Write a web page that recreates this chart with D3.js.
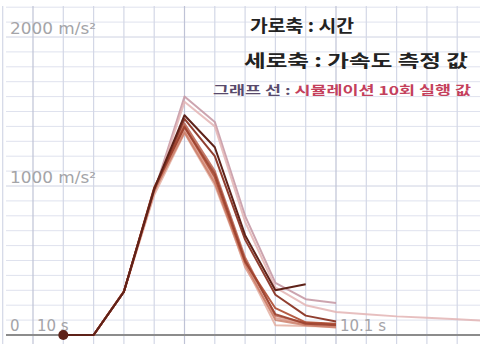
<!DOCTYPE html>
<html>
<head>
<meta charset="utf-8">
<script src="https://cdn.jsdelivr.net/npm/d3@7/dist/d3.min.js"></script>
<style>
  html, body { margin: 0; padding: 0; background: #fff; }
  svg { display: block; }
</style>
</head>
<body>
<svg id="chart" width="480" height="344"></svg>
<script>
// Sample times (s) of the acceleration readings
const times = [10.01, 10.02, 10.03, 10.04, 10.05, 10.06, 10.07, 10.08, 10.09, 10.10,
               10.11, 10.12, 10.13, 10.14, 10.15];

// Ten simulation runs, acceleration in m/s² at each sample time
const run1  = [0, 0, 290, 960, 1600, 1430, 800, 350, 240, 215];
const run2  = [0, 0, 290, 950, 1565, 1400, 760, 320, 200, 155, 140, 125, 115, 105, 95];
const run3  = [0, 0, 290, 975, 1380, 1040, 455, 115, 70, 60];
const run4  = [0, 0, 290, 940, 1355, 1005, 470, 65, 60, 55];
const run5  = [0, 0, 295, 970, 1420, 1100, 520, 130, 80, 70];
const run6  = [0, 0, 290, 965, 1360, 1020, 480, 100, 65, 50];
const run7  = [0, 0, 290, 990, 1400, 1060, 490, 180, 85, 75];
const run8  = [0, 0, 290, 985, 1395, 1080, 500, 140, 75, 65];
const run9  = [0, 0, 290, 975, 1450, 1200, 640, 270, 130, 90];
const run10 = [0, 0, 290, 980, 1475, 1260, 670, 300, 340];

const runs = [run1, run2, run3, run4, run5, run6, run7, run8, run9, run10];
const runColors = ["#c79aa6", "#e3b4b4", "#d99080", "#e0a494", "#b8604c",
                   "#c97862", "#ad4a30", "#9c4230", "#8a3424", "#5e2219"];
const runOpacity = [0.9, 0.85, 0.8, 0.75, 0.85, 0.8, 0.9, 0.9, 0.95, 1];

// Axis labels
const yTickValues = [2000, 1000];
const yTickLabels = ["2000 m/s²", "1000 m/s²"];
const xTickValues = [10.0, 10.1];
const xTickLabels = ["10 s", "10.1 s"];

// Caption lines
const captionAxisX = "가로축 : 시간";
const captionAxisY = "세로축 : 가속도 측정 값";
const captionLineKey = "그래프 선 : ";
const captionLineVal = "시뮬레이션 10회 실행 값";

const W = 480, H = 344;
const svg = d3.select("#chart");

const x = d3.scaleLinear().domain([10.0, 10.1]).range([33, 336]);
const y = d3.scaleLinear().domain([0, 2000]).range([335, 37]);

// Graph-paper grid
const grid = svg.append("g");
const hVals = d3.range(-200, 2300, 100);
grid.selectAll("line.h").data(hVals).join("line")
  .attr("x1", 6).attr("x2", W)
  .attr("y1", d => y(d)).attr("y2", d => y(d))
  .attr("stroke", d => d % 1000 === 0 ? "#ced2e2" : "#dfe2ee")
  .attr("stroke-width", 1);
const vVals = d3.range(-1, 16).map(i => 10.0 + i * 0.01);
grid.selectAll("line.v").data(vVals).join("line")
  .attr("x1", d => x(d)).attr("x2", d => x(d))
  .attr("y1", 6).attr("y2", H)
  .attr("stroke", (d, i) => (i - 1) % 5 === 0 ? "#bfc3d6" : "#d3d7e6")
  .attr("stroke-width", 1.2);

// Zero line
svg.append("line")
  .attr("x1", 6).attr("x2", W)
  .attr("y1", y(0)).attr("y2", y(0))
  .attr("stroke", "#8c8c8c").attr("stroke-width", 2);

// Axis labels
const labelFont = "'DejaVu Sans', sans-serif";
svg.selectAll("text.ylab").data(yTickValues).join("text")
  .attr("x", 10).attr("y", d => y(d) - 3)
  .attr("font-family", labelFont).attr("font-size", 15)
  .attr("fill", "#a4a4a8")
  .attr("textLength", 86).attr("lengthAdjust", "spacingAndGlyphs")
  .text((d, i) => yTickLabels[i]);
svg.append("text")
  .attr("x", 10).attr("y", y(0) - 4)
  .attr("font-family", labelFont).attr("font-size", 15)
  .attr("fill", "#a4a4a8").text("0");
svg.selectAll("text.xlab").data(xTickValues).join("text")
  .attr("x", d => x(d) + 4).attr("y", y(0) - 4)
  .attr("font-family", labelFont).attr("font-size", 15)
  .attr("fill", "#a4a4a8")
  .text((d, i) => xTickLabels[i]);

// Simulation run lines
const line = d3.line()
  .x((d, i) => x(times[i]))
  .y(d => y(d));
svg.append("g").selectAll("path").data(runs).join("path")
  .attr("d", d => line(d))
  .attr("fill", "none")
  .attr("stroke", (d, i) => runColors[i])
  .attr("stroke-opacity", (d, i) => runOpacity[i])
  .attr("stroke-width", 2)
  .attr("stroke-linejoin", "round");

// Start marker
svg.append("circle")
  .attr("cx", x(times[0])).attr("cy", y(run10[0]))
  .attr("r", 5).attr("fill", "#5e2219");

// Captions
const capFont = "'Noto Sans CJK KR', sans-serif";
svg.append("text")
  .attr("x", 250).attr("y", 32)
  .attr("font-family", capFont).attr("font-size", 17).attr("font-weight", "bold")
  .attr("fill", "#222")
  .attr("textLength", 104).attr("lengthAdjust", "spacingAndGlyphs")
  .text(captionAxisX);
svg.append("text")
  .attr("x", 244).attr("y", 67)
  .attr("font-family", capFont).attr("font-size", 17).attr("font-weight", "bold")
  .attr("fill", "#222")
  .attr("textLength", 224).attr("lengthAdjust", "spacingAndGlyphs")
  .text(captionAxisY);
const cap3 = svg.append("text")
  .attr("x", 213).attr("y", 95)
  .attr("font-family", capFont).attr("font-size", 12).attr("font-weight", "bold")
  .attr("textLength", 258).attr("lengthAdjust", "spacingAndGlyphs");
cap3.append("tspan").attr("fill", "#594a6c").text(captionLineKey);
cap3.append("tspan").attr("fill", "#c4405c").text(captionLineVal);
</script>
</body>
</html>
